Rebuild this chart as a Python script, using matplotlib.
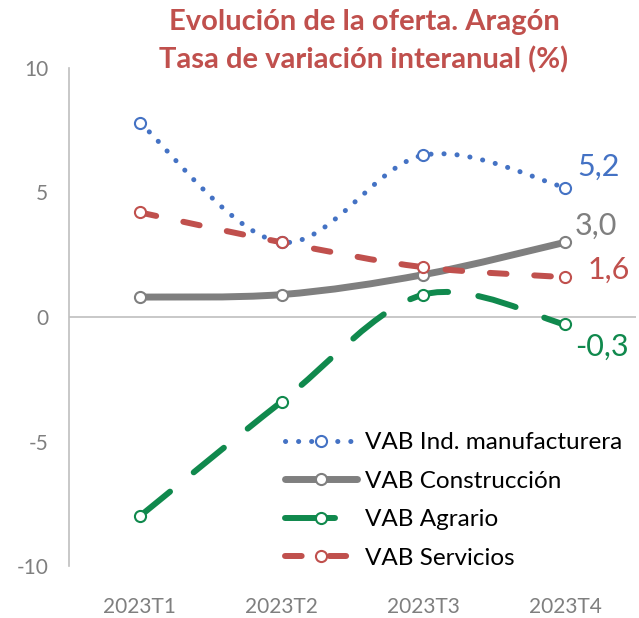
import numpy as np
import matplotlib.pyplot as plt
from matplotlib.path import Path
from matplotlib.patches import PathPatch
from matplotlib.lines import Line2D

plt.rcParams['font.family'] = ['Lato', 'DejaVu Sans']
plt.rcParams['lines.scale_dashes'] = False

# datos (tasa de variación interanual, %)
trimestres = ['2023T1', '2023T2', '2023T3', '2023T4']
manufacturera = [7.8, 3.0, 6.5, 5.2]
construccion = [0.8, 0.9, 1.7, 3.0]
agrario = [-8.0, -3.4, 0.9, -0.3]
servicios = [4.2, 3.0, 2.0, 1.6]

nombres = ['VAB Ind. manufacturera', 'VAB Construcción', 'VAB Agrario', 'VAB Servicios']
series = [manufacturera, construccion, agrario, servicios]
colores = ['#4472C4', '#7F7F7F', '#10894D', '#C0504D']
anchos = [3.6, 5.0, 4.3, 4.3]
trazos = [(0.1, 9.3), None, (28, 22), (12, 20)]
trazos_leyenda = [(0.1, 9.3), None, (36, 40), (12, 20)]


def curva_suave(x, y):
    # curva tipo Excel (bezier cúbica por los puntos)
    pts = np.column_stack([x, y]).astype(float)
    n = len(pts)
    verts = [pts[0]]
    codes = [Path.MOVETO]
    for i in range(n - 1):
        p0 = pts[max(i - 1, 0)]
        p1 = pts[i]
        p2 = pts[i + 1]
        p3 = pts[min(i + 2, n - 1)]
        verts += [p1 + (p2 - p0) / 6, p2 - (p3 - p1) / 6, p2]
        codes += [Path.CURVE4] * 3
    return Path(verts, codes)


fig = plt.figure(figsize=(6.39, 6.18), dpi=100)
ax = fig.add_axes([69 / 639, (618 - 566) / 618, 567 / 639, (566 - 68) / 618])

x = np.arange(len(trimestres))
handles = []
for k, (vals, col, lw, ds, dl) in enumerate(zip(series, colores, anchos, trazos, trazos_leyenda)):
    ls = '-' if ds is None else (0, ds)
    ax.add_patch(PathPatch(curva_suave(x, vals), fill=False, edgecolor=col, lw=lw,
                           linestyle=ls, capstyle='round', joinstyle='round', zorder=3 + k))
    ax.plot(x, vals, 'o', ms=8, mfc='white', mec=col, mew=1.5, zorder=3 + k)
    h = Line2D([], [], color=col, lw=lw, marker='o', ms=8, mfc='white', mec=col, mew=1.5,
               dash_capstyle='round', solid_capstyle='round')
    if dl is not None:
        h.set_dashes(dl)
    handles.append(h)

# etiquetas del último trimestre (desplazamiento en puntos)
offsets = [(9, 15), (7, 12), (7, -16), (16, 5)]
for vals, col, off in zip(series, colores, offsets):
    ax.annotate(f'{vals[-1]:.1f}'.replace('.', ','), xy=(3, vals[-1]), xytext=off,
                textcoords='offset points', color=col, fontsize=22, va='center', ha='left')

ax.set_xlim(-0.5, 3.5)
ax.set_ylim(-10, 10)
ax.set_yticks([-10, -5, 0, 5, 10])
ax.set_yticklabels(['-10', '-5', '0', '5', '10'])
ax.set_xticks(x)
ax.set_xticklabels(trimestres)
ax.tick_params(length=0, labelsize=15, labelcolor='#7F7F7F')
ax.tick_params(axis='y', pad=15)
ax.tick_params(axis='x', pad=22)
for s in ['top', 'right', 'bottom']:
    ax.spines[s].set_visible(False)
ax.spines['left'].set_color('#BFBFBF')
ax.spines['left'].set_linewidth(1.2)
ax.axhline(0, color='#BFBFBF', lw=1.2, zorder=2)

ax.legend(handles, nombres, loc='upper left', bbox_to_anchor=(285 / 639, 1 - 432 / 618),
          bbox_transform=fig.transFigure, frameon=False, fontsize=17.5, numpoints=1,
          handlelength=2.95, handletextpad=0.35, labelspacing=0.72, borderpad=0, borderaxespad=0)

fig.text(364 / 639, 1 - 22 / 618, 'Evolución de la oferta. Aragón', ha='center', va='center',
         fontsize=21, fontweight='bold', color='#C0504D')
fig.text(364 / 639, 1 - 60 / 618, 'Tasa de variación interanual (%)', ha='center', va='center',
         fontsize=21, fontweight='bold', color='#C0504D')

fig.savefig('out.png', dpi=100)
